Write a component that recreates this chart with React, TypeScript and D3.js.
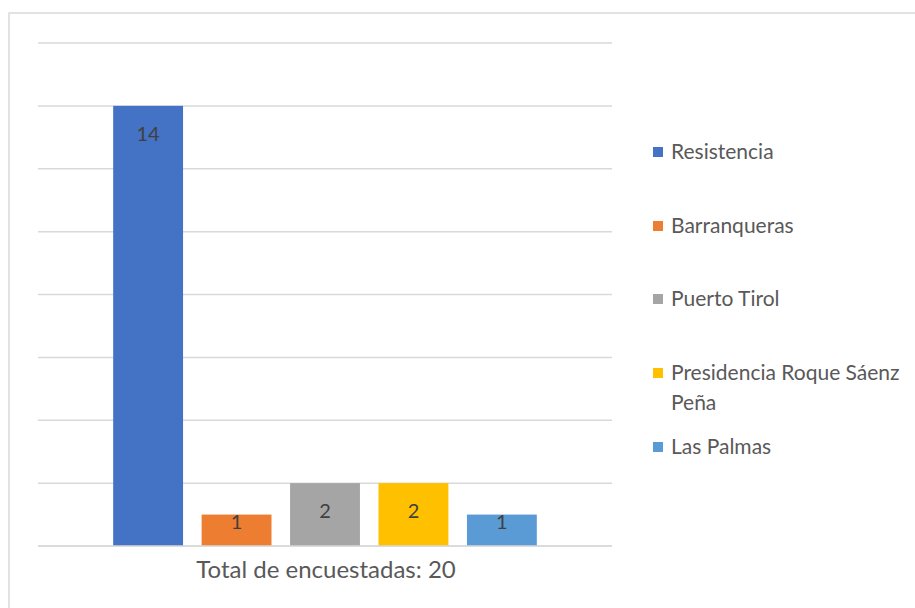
import React from "react";
import * as d3 from "d3";

const categories = ["Resistencia", "Barranqueras", "Puerto Tirol", "Presidencia Roque Sáenz Peña", "Las Palmas"];
const values = [14, 1, 2, 2, 1];
const colors = ["#4472C4", "#ED7D31", "#A5A5A5", "#FFC000", "#5B9BD5"];
const legendLines = [["Resistencia"], ["Barranqueras"], ["Puerto Tirol"], ["Presidencia Roque Sáenz", "Peña"], ["Las Palmas"]];
const axisTitle = "Total de encuestadas: 20";
const yTicks = [0, 2, 4, 6, 8, 10, 12, 14, 16];

const W = 915, H = 608;
const FONT = "Lato, 'Open Sans', sans-serif";

export default function App() {
  const x = d3.scaleBand<string>().domain(categories).range([38, 612]).paddingInner(0.21).paddingOuter(0.85);
  const y = d3.scaleLinear().domain([0, 16]).range([546, 43]);
  const legendY = [152, 226, 299, 373, 447];

  return (
    <svg width={W} height={H} style={{ position: "absolute", left: 0, top: 0, background: "#fff" }}>
      <rect x={9} y={13} width={W + 20} height={H + 20} fill="#fff" stroke="#d9d9d9" strokeWidth={1.5} />
      {yTicks.map((t) => (
        <line key={t} x1={38} x2={612} y1={y(t)} y2={y(t)} stroke="#d9d9d9" strokeWidth={1.5} />
      ))}
      {categories.map((c, i) => {
        const top = y(values[i]);
        const h = y(0) - top;
        const off = Math.min(35, h - 17.5);
        return (
          <g key={c}>
            <rect x={x(c)} y={top} width={x.bandwidth()} height={h} fill={colors[i]} />
            <text x={(x(c) as number) + x.bandwidth() / 2} y={top + off} textAnchor="middle" fill="#404040" fontFamily={FONT} fontSize={20}>
              {values[i]}
            </text>
          </g>
        );
      })}
      <line x1={38} x2={612} y1={y(0)} y2={y(0)} stroke="#d9d9d9" strokeWidth={1.5} />
      <text x={326} y={578} textAnchor="middle" fill="#595959" fontFamily={FONT} fontSize={24}>
        {axisTitle}
      </text>
      {categories.map((c, i) => (
        <g key={"l" + c}>
          <rect x={653} y={legendY[i] - 5} width={10} height={10} fill={colors[i]} />
          <text x={671} y={legendY[i] + 7} fill="#595959" fontFamily={FONT} fontSize={21}>
            {legendLines[i].map((ln, j) => (
              <tspan key={j} x={671} dy={j === 0 ? 0 : 30}>{ln}</tspan>
            ))}
          </text>
        </g>
      ))}
    </svg>
  );
}
